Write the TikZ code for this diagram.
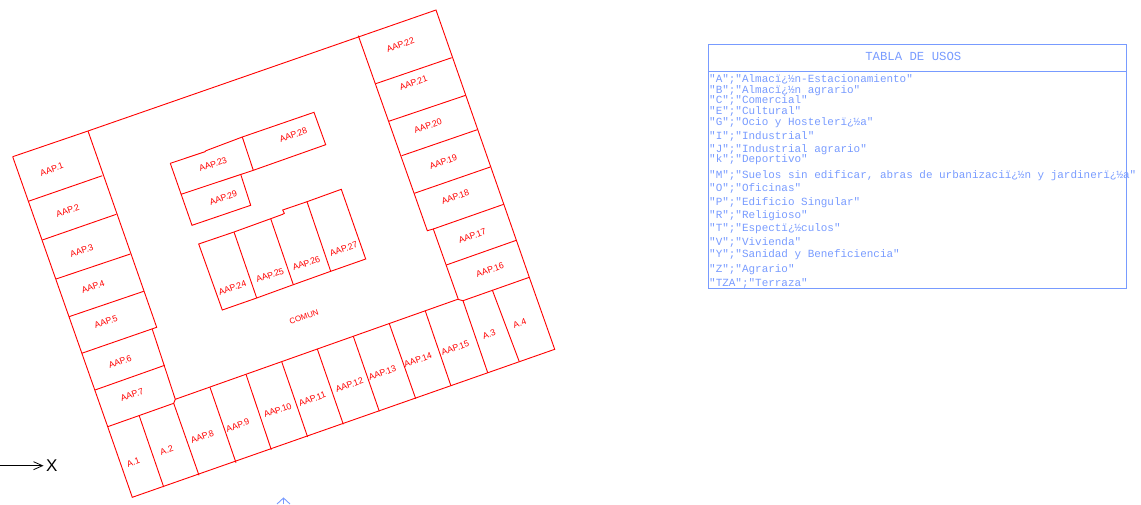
\documentclass[tikz,border=0pt]{standalone}
\usepackage{fontspec}
\usetikzlibrary{arrows.meta}
\setmainfont{Liberation Sans}
\newfontfamily\tablefont{Liberation Mono}
\definecolor{planred}{RGB}{255,0,0}
\definecolor{tableblue}{RGB}{120,155,255}
\tikzset{
  plan/.style={draw=planred,line width=0.9pt,line join=miter},
  unitlabel/.style={text=planred,rotate=19.3,inner sep=0pt,font=\fontsize{8.8}{9}\selectfont},
  tablebox/.style={draw=tableblue,line width=0.9pt},
  tablerow/.style={text=tableblue,anchor=west,inner sep=0pt,font=\tablefont\fontsize{10.95}{11}\selectfont},
  tabletitle/.style={text=tableblue,inner sep=0pt,font=\tablefont\fontsize{12.3}{13}\selectfont},
}
\begin{document}
\begin{tikzpicture}[x=1pt,y=-1pt]
\useasboundingbox (0,0) rectangle (1141,504);
% outer perimeter
\draw[plan] (12.7,156.7) -- (88,131) -- (436,10) -- (529.3,277.3);
\draw[plan] (12.7,156.7) -- (107.7,426.7) -- (132.3,497.3) -- (554.7,349.3) -- (529.3,277.3);
% left column
\draw[plan] (88,131) -- (156.7,327.3) -- (81.7,353.3);
\draw[plan] (28.3,201.3) -- (102.3,175.7);
\draw[plan] (42.3,240) -- (116.3,214.3);
\draw[plan] (56,279) -- (130.3,254);
\draw[plan] (69,316.7) -- (143.7,291.3);
\draw[plan] (95,390) -- (164.7,365.3);
\draw[plan] (152.3,329.3) -- (175.3,399.3);
\draw[plan] (107.7,426.7) -- (173.7,403.3) -- (175.3,399.3) -- (457.7,299.3);
% bottom row
\draw[plan] (139.3,416) -- (163.7,487);
\draw[plan] (173.7,403.3) -- (199,475.3);
\draw[plan] (210,387.3) -- (236,462.7);
\draw[plan] (246,374.3) -- (271.3,449.7);
\draw[plan] (281.7,361.7) -- (307.6,436.9);
\draw[plan] (317.3,349) -- (343.3,424.3);
\draw[plan] (353.3,336.3) -- (379.3,411.3);
\draw[plan] (389.3,323.7) -- (415.7,398.7);
\draw[plan] (425.3,311) -- (451,386);
\draw[plan] (463,300.7) -- (487.7,372.7);
\draw[plan] (492.3,290) -- (519.3,361.7);
% right column
\draw[plan] (358.3,35.7) -- (427.3,230.7) -- (433.3,229) -- (458.3,299.3);
\draw[plan] (457.7,299.3) -- (463,300.7) -- (529.3,277.3);
\draw[plan] (375.7,83.7) -- (451.7,57.7);
\draw[plan] (388.7,121.3) -- (465.7,95.3);
\draw[plan] (401.7,155.7) -- (477.3,129.7);
\draw[plan] (414.3,193.3) -- (490.3,167);
\draw[plan] (433.3,229) -- (503.7,204.3);
\draw[plan] (446.3,265) -- (516.3,240.3);
% inner block 1
\draw[plan] (170.3,163.3) -- (205,151.7) -- (206,150.7) -- (242.3,137) -- (314,112.3) -- (325.7,144.7) -- (253.3,170.3) -- (181,194.3);
\draw[plan] (170.3,163.3) -- (192,225.3) -- (250.7,205.3) -- (240.7,174.3);
\draw[plan] (242.3,137) -- (253.3,170.3);
% inner block 2
\draw[plan] (198.7,244) -- (234,232) -- (270.7,218.7) -- (282.7,214.3) -- (284.3,213.3) -- (282.7,210) -- (307,201.7) -- (341.3,189.3) -- (365.7,259) -- (330.7,271.3) -- (293.3,284.7) -- (256.7,298) -- (222.3,310) -- cycle;
\draw[plan] (234,232) -- (256.7,298);
\draw[plan] (270.7,218.7) -- (293.3,284.7);
\draw[plan] (307,201.7) -- (330.7,271.3);
% labels
\foreach \px/\py/\txt/\nm in {
51.7/169.3/AAP.1/a1, 67.7/211/AAP.2/a2, 81.7/250.7/AAP.3/a3, 93/287/AAP.4/a4, 106/322/AAP.5/a5,
120/361.7/AAP.6/a6, 132/394.7/AAP.7/a7, 133.3/462.3/A.1/b1, 166.7/450/A.2/b2, 202.3/437/AAP.8/a8,
237.7/425.3/AAP.9/a9, 277.7/410.3/AAP.10/a10, 312.3/399/AAP.11/a11, 349.3/385/AAP.12/a12,
382.3/372.7/AAP.13/a13, 418/360/AAP.14/a14, 455.3/348.3/AAP.15/a15, 489/334.3/A.3/b3, 519.7/323.3/A.4/b4,
490/270/AAP.16/a16, 472.3/236/AAP.17/a17, 455.3/196.7/AAP.18/a18, 443.3/161.7/AAP.19/a19,
428/126/AAP.20/a20, 413.3/83/AAP.21/a21, 400.3/44.7/AAP.22/a22, 293.3/135/AAP.28/a28, 213/164.3/AAP.23/a23,
223.3/197.7/AAP.29/a29, 232.3/287.7/AAP.24/a24, 270/275.3/AAP.25/a25, 306.3/263.3/AAP.26/a26, 343.7/249/AAP.27/a27}
  {\node[unitlabel] (\nm) at (\px,\py) {\txt};}
\node[unitlabel,font=\fontsize{8}{9}\selectfont] (com) at (304,316.7) {COMUN};
% table
\draw[tablebox] (708.3,44.7) rectangle (1126.7,288.3);
\draw[tablebox] (708.3,71.3) -- (1126.7,71.3);
\node[tabletitle] (title) at (913.3,56.8) {TABLA DE USOS};
\node[tablerow] (r1) at (709,79.2) {"A";"Almacï¿½n-Estacionamiento"};
\node[tablerow] (r2) at (709,90.5) {"B";"Almacï¿½n agrario"};
\node[tablerow] (r3) at (709,100.8) {"C";"Comercial"};
\node[tablerow] (r4) at (709,111.8) {"E";"Cultural"};
\node[tablerow] (r5) at (709,122.5) {"G";"Ocio y Hostelerï¿½a"};
\node[tablerow] (r6) at (709,136.5) {"I";"Industrial"};
\node[tablerow] (r7) at (709,149.5) {"J";"Industrial agrario"};
\node[tablerow] (r8) at (709,159.8) {"k";"Deportivo"};
\node[tablerow] (r9) at (709,175.2) {"M";"Suelos sin edificar, abras de urbanizaciï¿½n y jardinerï¿½a"};
\node[tablerow] (r10) at (709,188.8) {"O";"Oficinas"};
\node[tablerow] (r11) at (709,202.2) {"P";"Edificio Singular"};
\node[tablerow] (r12) at (709,215.5) {"R";"Religioso"};
\node[tablerow] (r13) at (709,228.2) {"T";"Espectï¿½culos"};
\node[tablerow] (r14) at (709,242.2) {"V";"Vivienda"};
\node[tablerow] (r15) at (709,254.8) {"Y";"Sanidad y Beneficiencia"};
\node[tablerow] (r16) at (709,269.8) {"Z";"Agrario"};
\node[tablerow] (r17) at (709,283.5) {"TZA";"Terraza"};
% UCS icon
\node[text=black,inner sep=0pt,font=\fontsize{17}{17}\selectfont] (xaxis) at (51.7,465.7) {X};
\coordinate (xstart) at (0,465.7);
\coordinate (xtip) at (43.5,465.7);
\draw[black,line width=0.8pt,-{Straight Barb[length=9pt,width=8pt]}] (xstart) -- (xtip);
\draw[tablebox] (277,504) -- (283.5,498) -- (290,504);
\draw[tablebox] (283.5,498) -- (283.5,504);
\end{tikzpicture}
\end{document}
